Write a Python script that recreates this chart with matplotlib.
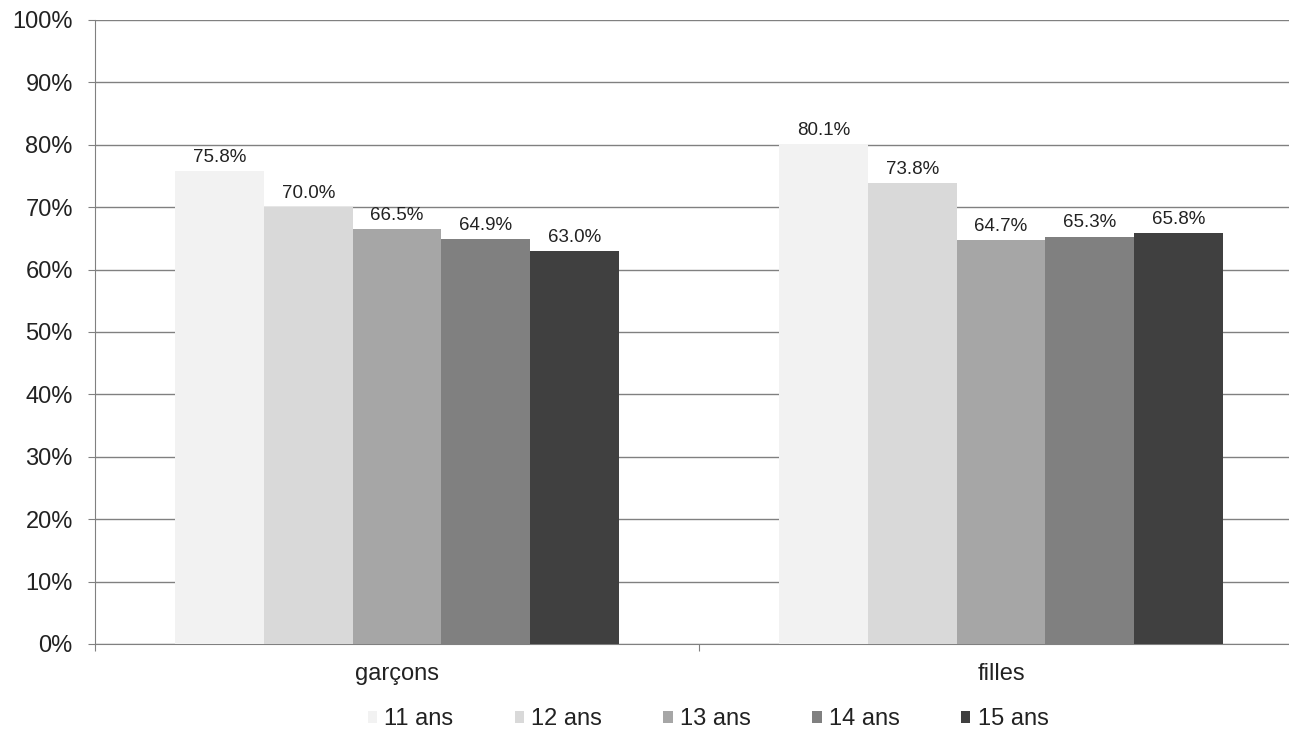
import numpy as np
import matplotlib
matplotlib.use("Agg")
import matplotlib.pyplot as plt
from matplotlib.ticker import PercentFormatter

plt.rcParams['font.family'] = ['Liberation Sans', 'DejaVu Sans']

categories = ["garçons", "filles"]
series = ["11 ans", "12 ans", "13 ans", "14 ans", "15 ans"]
values = {
    "11 ans": [75.8, 80.1],
    "12 ans": [70.0, 73.8],
    "13 ans": [66.5, 64.7],
    "14 ans": [64.9, 65.3],
    "15 ans": [63.0, 65.8],
}
colors = ["#f2f2f2", "#d9d9d9", "#a6a6a6", "#808080", "#404040"]

fig = plt.figure(figsize=(12.89, 7.31), dpi=100)
ax = fig.add_axes([95 / 1289, 1 - 644 / 731, 1208 / 1289, 624 / 731])

x = np.arange(len(categories))
w = 0.147
for i, s in enumerate(series):
    pos = x + (i - 2) * w
    bars = ax.bar(pos, values[s], w, color=colors[i], label=s, zorder=3)
    for b, v in zip(bars, values[s]):
        ax.text(b.get_x() + w / 2, v + 1.45, f"{v:.1f}%", ha="center", va="baseline",
                fontsize=13.5, color="#222222", zorder=4)

ax.set_xlim(-0.5, 1.5)
ax.set_ylim(0, 100)
ax.set_yticks(np.arange(0, 101, 10))
ax.yaxis.set_major_formatter(PercentFormatter(decimals=0))
ax.tick_params(axis="y", labelsize=17, length=5, color="#808080", pad=11,
               labelcolor="#222222")
ax.grid(axis="y", color="#808080", linewidth=1, zorder=0)

ax.set_xticks([-0.5, 0.5, 1.5])
ax.set_xticklabels([])
ax.set_xticks(x, minor=True)
ax.set_xticklabels(categories, minor=True)
ax.tick_params(axis="x", which="major", length=5, color="#808080")
ax.tick_params(axis="x", which="minor", length=0, labelsize=17, pad=14,
               labelcolor="#222222")

for side in ["top", "right"]:
    ax.spines[side].set_visible(False)
for side in ["left", "bottom"]:
    ax.spines[side].set_color("#808080")

leg = fig.legend(loc="center", bbox_to_anchor=(708 / 1289, 1 - 719 / 731), ncol=5,
                 frameon=False, fontsize=17, handlelength=0.4, handleheight=0.4,
                 handletextpad=0.3, columnspacing=2.6, labelcolor="#222222")

fig.savefig("out.png", dpi=100)
